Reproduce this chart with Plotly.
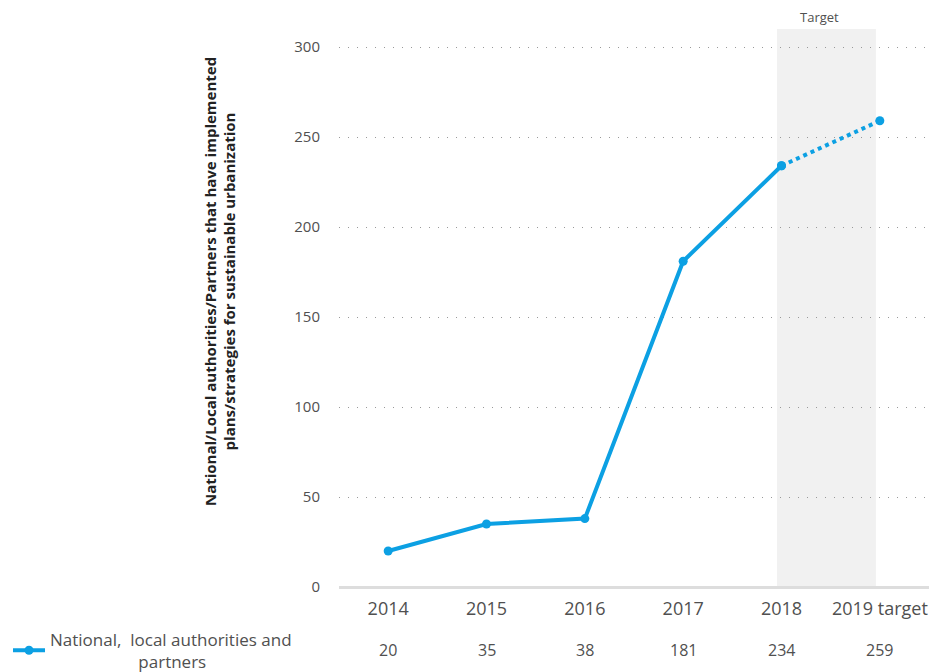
import plotly.graph_objects as go

years = ["2014", "2015", "2016", "2017", "2018", "2019 target"]
partners = [20, 35, 38, 181, 234, 259]
series_name = "National,  local authorities and<br>" + "&nbsp;" * 20 + "partners"
y_title = "National/Local authorities/Partners that have implemented<br>plans/strategies for sustainable urbanization"
y_ticks = [0, 50, 100, 150, 200, 250, 300]

BLUE = "#0ca0e3"
FONT = "Open Sans"
TXT = "#505050"

fig = go.Figure()

# target band behind the last segment
fig.add_shape(
    type="rect", xref="paper", yref="paper",
    x0=0.7424, x1=0.910, y0=0, y1=1,
    fillcolor="#f1f1f1", line_width=0, layer="below",
)
fig.add_annotation(
    x=0.815, xref="paper", xanchor="center",
    y=1.0, yref="paper", yanchor="bottom", yshift=1,
    text="Target", showarrow=False,
    font=dict(family=FONT, size=13, color=TXT),
)

# actuals (solid)
fig.add_trace(go.Scatter(
    x=years[:5], y=partners[:5],
    mode="lines+markers",
    name=series_name,
    line=dict(color=BLUE, width=4),
    marker=dict(color=BLUE, size=9),
    showlegend=True,
))

# target (dotted)
fig.add_trace(go.Scatter(
    x=years[4:], y=partners[4:],
    mode="lines+markers",
    line=dict(color=BLUE, width=4, dash="dot"),
    marker=dict(color=BLUE, size=9),
    showlegend=False,
))

# values row under the axis
for i, v in enumerate(partners):
    fig.add_annotation(
        x=i, xref="x", xanchor="center",
        y=-0.113, yref="paper", yanchor="middle",
        text=str(v), showarrow=False,
        font=dict(family=FONT, size=16, color=TXT),
    )

# y-axis title as a rotated annotation (sits a bit above plot centre)
fig.add_annotation(
    x=-0.202, xref="paper", xanchor="center",
    y=0.548, yref="paper", yanchor="middle",
    text="<b>" + y_title + "</b>", textangle=-90, showarrow=False,
    font=dict(family=FONT, size=15, color="#222222"),
)

fig.update_layout(
    width=938, height=664,
    margin=dict(l=331, r=17, t=21, b=85, autoexpand=False),
    paper_bgcolor="white",
    plot_bgcolor="white",
    font=dict(family=FONT, color=TXT),
    showlegend=True,
    legend=dict(
        x=-0.561, xanchor="left", y=-0.114, yanchor="middle",
        font=dict(family=FONT, size=17, color=TXT),
        bgcolor="rgba(0,0,0,0)",
        itemwidth=32,
    ),
    xaxis=dict(
        type="category",
        categoryorder="array",
        categoryarray=years,
        range=[-0.5, 5.5],
        showgrid=False,
        showline=False,
        ticks="",
        ticklabelstandoff=9,
        tickfont=dict(family=FONT, size=18, color=TXT),
    ),
    yaxis=dict(
        range=[0, 310],
        tickvals=y_ticks,
        showgrid=True,
        gridcolor="#999999",
        gridwidth=1,
        griddash="1px,8px",
        zeroline=True,
        zerolinecolor="#dddddd",
        zerolinewidth=3,
        ticks="",
        ticklabelstandoff=18,
        tickfont=dict(family=FONT, size=15, color=TXT),
    ),
)

fig.write_html("out.html")
